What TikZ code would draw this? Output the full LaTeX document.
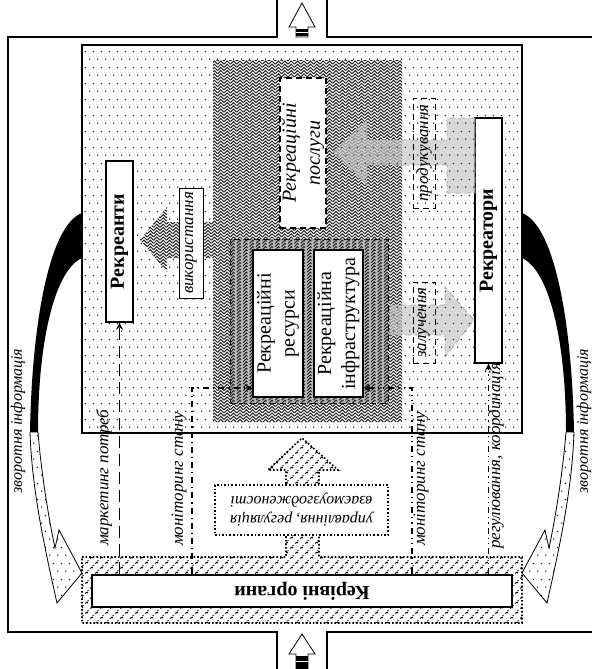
\documentclass[tikz,border=0pt]{standalone}
\usepackage{fontspec}
\setmainfont{Liberation Serif}
\usetikzlibrary{patterns,fit,arrows}

% fills of the scheme
\pgfdeclarepatternformonly{tochky}{\pgfpointorigin}{\pgfpoint{4pt}{8pt}}{\pgfpoint{4pt}{8pt}}{%
  \pgfpathcircle{\pgfpoint{1pt}{1pt}}{0.38pt}
  \pgfpathcircle{\pgfpoint{3pt}{5pt}}{0.38pt}
  \pgfusepath{fill}}
\pgfdeclarepatternformonly{yalynka}{\pgfpoint{-0.5pt}{-0.5pt}}{\pgfpoint{3.7pt}{3.7pt}}{\pgfpoint{3.2pt}{3.2pt}}{%
  \pgfsetlinewidth{0.5pt}
  \pgfpathmoveto{\pgfpoint{0pt}{0pt}}\pgfpathlineto{\pgfpoint{1.6pt}{1.6pt}}\pgfpathlineto{\pgfpoint{3.2pt}{0pt}}
  \pgfpathmoveto{\pgfpoint{0pt}{1.6pt}}\pgfpathlineto{\pgfpoint{1.6pt}{3.2pt}}\pgfpathlineto{\pgfpoint{3.2pt}{1.6pt}}
  \pgfusepath{stroke}}
\pgfdeclarepatternformonly{khrestyky}{\pgfpoint{-1pt}{-1pt}}{\pgfpoint{6pt}{6pt}}{\pgfpoint{5pt}{5pt}}{%
  \pgfsetlinewidth{0.5pt}
  \pgfpathmoveto{\pgfpoint{0.2pt}{0.2pt}}\pgfpathlineto{\pgfpoint{1.7pt}{1.9pt}}
  \pgfpathmoveto{\pgfpoint{0.9pt}{1.1pt}}\pgfpathlineto{\pgfpoint{1.8pt}{0pt}}
  \pgfpathmoveto{\pgfpoint{2.7pt}{2.7pt}}\pgfpathlineto{\pgfpoint{4.2pt}{4.4pt}}
  \pgfpathmoveto{\pgfpoint{3.4pt}{3.6pt}}\pgfpathlineto{\pgfpoint{4.3pt}{2.5pt}}
  \pgfusepath{stroke}}

\begin{document}
\begin{tikzpicture}[x=0.5pt,y=-0.5pt,>=stealth,
  frameline/.style={line width=1pt},
  wbox/.style={draw,fill=white,inner sep=0pt,line width=0.6pt},
  lbox/.style={draw,densely dashed,inner sep=0pt,line width=0.5pt},
  sarrow/.style={draw=gray!70,densely dashed,fill=gray!45,fill opacity=0.7,postaction={pattern=tochky}},
  ctrl/.style={->,line width=0.6pt},
  vlabel/.style={rotate=90,font=\fontsize{8.5}{10}\selectfont\itshape}]
\useasboundingbox (0,0) rectangle (592,669);

% outer frame with entry and exit
\draw[frameline] (277,0) -- (277,37) -- (8,37) -- (8,632) -- (277,632) -- (277,669);
\draw[frameline] (327,0) -- (327,37) -- (592,37);
\draw[frameline] (327,669) -- (327,632) -- (592,632);
\draw[fill=white] (296,37) -- (296,27) -- (289,27) -- (302,3) -- (315,27) -- (308,27) -- (308,37) -- cycle;
\fill (296,29) rectangle (308,36); \draw[white] (296,32.5) -- (308,32.5);
\draw[fill=white] (296,669) -- (296,654) -- (289,654) -- (302,634) -- (315,654) -- (308,654) -- (308,669);
\fill (296,656) rectangle (308,669); \draw[white] (296,661) -- (308,661);

% recreation field
\node[draw,line width=0.8pt,inner sep=0pt,pattern=tochky,fit={(82,45) (522,433)}] (pole) {};
\path[fill=white,postaction={pattern=yalynka,pattern color=black!85}] (213,60) -- (402,60) -- (402,422) -- (213,422) -- (213,258) -- (167,258) -- (167,272) -- (140,240) -- (167,207) -- (167,222) -- (213,222) -- cycle;
\node[fit={(230,239) (388,403)},inner sep=0pt,fill=gray!55,draw,densely dashed,postaction={pattern=yalynka,pattern color=black!85}] (temne) {};

\node[wbox,densely dashed,fit={(280,78) (326,228)}] (posluhy) {};
\node[wbox,fit={(253,250) (303,397)}] (resursy) {};
\node[wbox,fit={(314,250) (363,397)}] (infra) {};
\node[wbox,fit={(106,161) (133,322)}] (rekreanty) {};
\node[wbox,fit={(475,118) (502,363)}] (rekreatory) {};

% flows
\path[sarrow] (475,118) -- (447,118) -- (447,140) -- (367,140) -- (367,120) -- (333,152) -- (367,185) -- (367,165) -- (447,165) -- (447,193) -- (475,193) -- cycle;
\path[sarrow] (390,305) -- (445,305) -- (445,287) -- (474,320) -- (445,357) -- (445,335) -- (390,335) -- cycle;
\node[draw,thin,fill=white,inner sep=0pt,fit={(179,188) (203,298)}] (vykor) {};
\node[lbox,fit={(413,98) (435,208)}] (produk) {};
\node[lbox,fit={(413,282) (435,363)}] (zaluch) {};

% management
\path[fill=white,postaction={pattern=khrestyky},draw,densely dotted,line width=0.8pt] (82,557) -- (286,557) -- (286,470) -- (268,470) -- (302,438) -- (338,470) -- (319,470) -- (319,557) -- (522,557) -- (522,623) -- (82,623) -- cycle;
\node[wbox,fit={(92,575) (512,607)}] (kerivni) {};
\node[draw,densely dotted,line width=0.8pt,fill=white,inner sep=0pt,fit={(215,485) (388,535)}] (upr) {};

% control lines
\coordinate (mon1) at (192,388);
\coordinate (mon2) at (412,388);
\draw[ctrl,dash pattern=on 6pt off 3pt] (rekreanty.south |- kerivni.north) -- (rekreanty.south);
\draw[ctrl,dash dot] (mon1 |- kerivni.north) -- (mon1) -- (mon1 -| resursy.west);
\draw[ctrl,dash dot dot] (mon2 |- kerivni.north) -- (mon2) -- (mon2 -| infra.east);
\draw[ctrl,dash dot dot] (rekreatory.south |- kerivni.north) -- (rekreatory.south);

% feedback
\fill (82,213) .. controls (50,225) and (32,320) .. (30,432) -- (38,432) .. controls (38,340) and (55,270) .. (82,258) -- cycle;
\filldraw[fill=white,postaction={pattern=tochky}] (30,432) .. controls (32,490) and (44,545) .. (57,603) -- (82,573) -- (59,530) -- (55,548) .. controls (48,515) and (41,470) .. (38,432) -- cycle;
\fill (522,213) .. controls (554,225) and (572,320) .. (574,432) -- (566,432) .. controls (566,340) and (549,270) .. (522,258) -- cycle;
\filldraw[fill=white,postaction={pattern=tochky}] (574,432) .. controls (572,490) and (560,545) .. (547,603) -- (522,573) -- (545,530) -- (549,548) .. controls (556,515) and (563,470) .. (566,432) -- cycle;

% texts
\node[rotate=90,font=\itshape,align=center] at (posluhy) {Рекреаційні\\послуги};
\node[rotate=90,align=center] at (resursy) {Рекреаційні\\ресурси};
\node[rotate=90,align=center] at (infra) {Рекреаційна\\інфраструктура};
\node[rotate=90,font=\bfseries] at (rekreanty) {Рекреанти};
\node[rotate=90,font=\bfseries] at (rekreatory) {Рекреатори};
\node[vlabel] at (vykor) {використання};
\node[vlabel] at (produk) {продукування};
\node[vlabel] at (zaluch) {залучення};
\node[rotate=180,font=\bfseries] at (kerivni) {Керівні органи};
\node[rotate=180,font=\footnotesize\itshape,align=center,inner sep=0pt] at (upr) {управління, регуляція\\взаємоузгодженості};
\node[vlabel,anchor=west] at (104,553) {маркетинг потреб};
\node[vlabel,anchor=west] at (179,553) {моніторинг стану};
\node[vlabel,anchor=west] at (421,553) {моніторинг стану};
\node[vlabel,anchor=west] at (496,556) {регулювання, координація};
\node[rotate=90,font=\footnotesize\itshape] at (18,421) {зворотня інформація};
\node[rotate=90,font=\footnotesize\itshape] at (584,421) {зворотня інформація};
\end{tikzpicture}
\end{document}
